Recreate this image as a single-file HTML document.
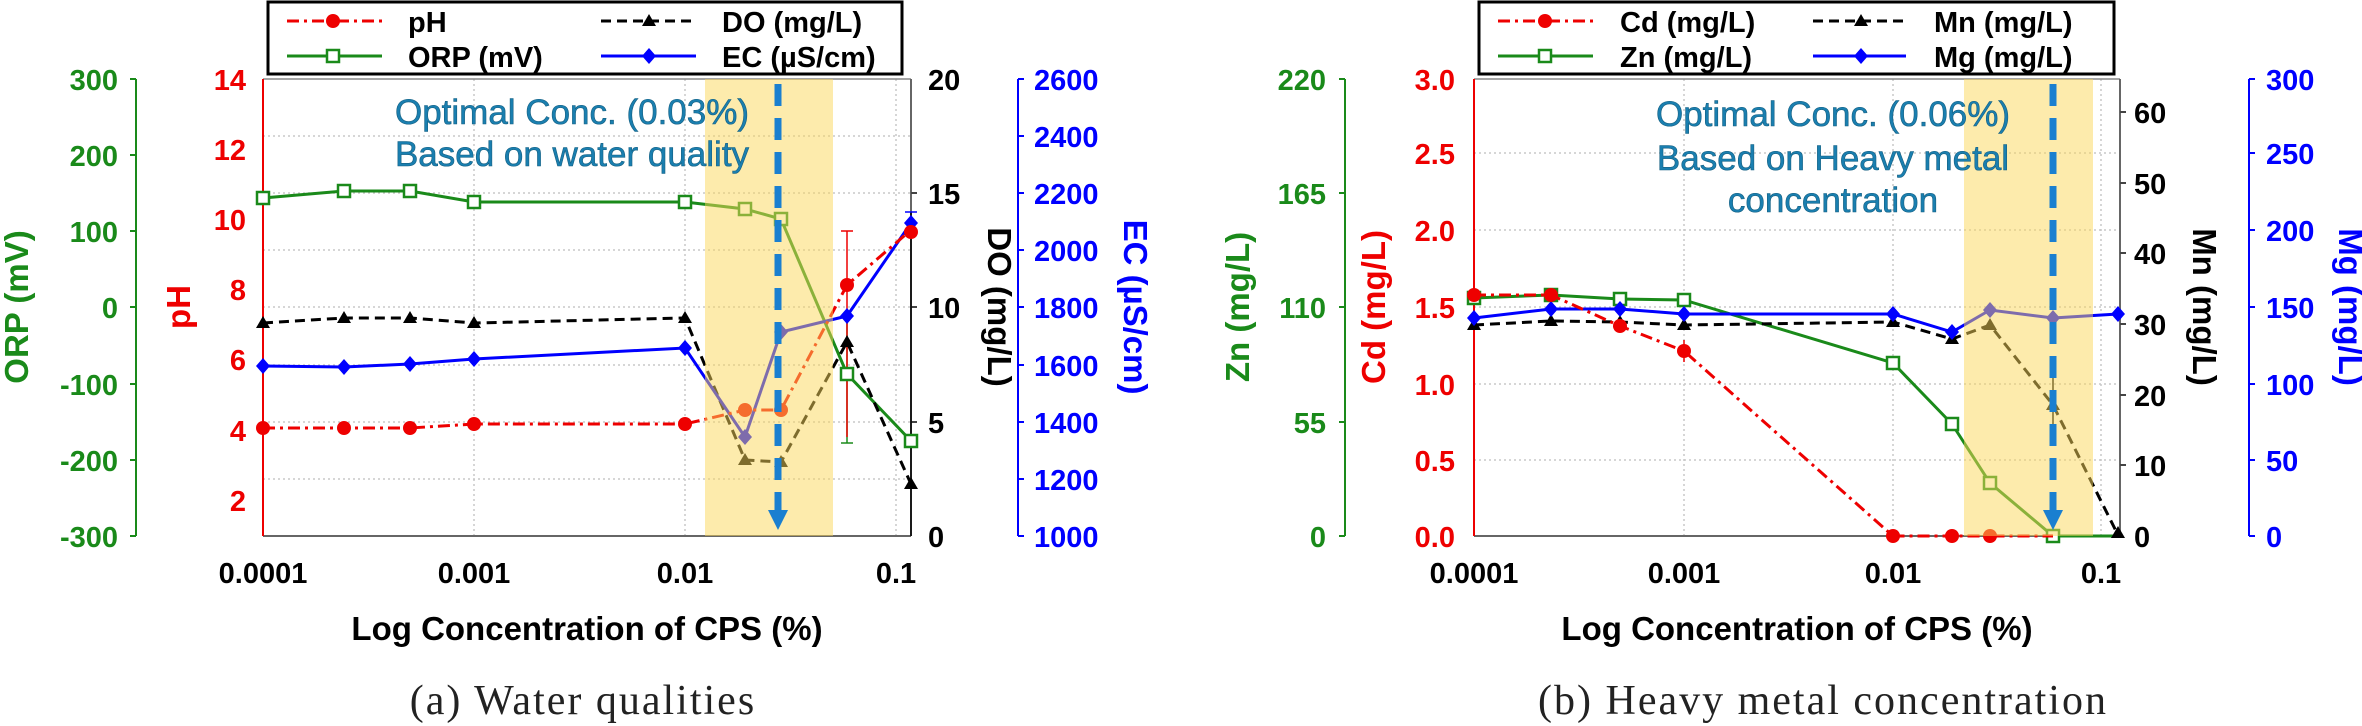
<!DOCTYPE html>
<html><head><meta charset="utf-8"><style>
html,body{margin:0;padding:0;background:#fff;}
svg{display:block;font-family:"Liberation Sans",Arial,sans-serif;}
.tk{font-size:29px;font-weight:bold;}
.lg{font-size:29px;font-weight:bold;fill:#000;}
.ti{font-size:33px;font-weight:bold;}
.cap{font-family:"Liberation Serif",serif;font-size:42px;letter-spacing:2px;fill:#222;}
.opt{font-size:35px;fill:#1a7fb0;stroke:#155f80;stroke-width:0.6px;}
</style></head><body>
<svg width="2362" height="726" viewBox="0 0 2362 726" xmlns="http://www.w3.org/2000/svg">

<!-- ================= CHART A ================= -->
<g>
<g stroke="#c8c8c8" stroke-width="1.5" stroke-dasharray="2,3">
<line x1="263" y1="136" x2="911" y2="136"/><line x1="263" y1="193" x2="911" y2="193"/>
<line x1="263" y1="250" x2="911" y2="250"/><line x1="263" y1="307" x2="911" y2="307"/>
<line x1="263" y1="365" x2="911" y2="365"/><line x1="263" y1="422" x2="911" y2="422"/>
<line x1="263" y1="479" x2="911" y2="479"/>
<line x1="474" y1="79" x2="474" y2="536"/><line x1="685" y1="79" x2="685" y2="536"/><line x1="896" y1="79" x2="896" y2="536"/>
</g>
<line x1="263" y1="79" x2="911" y2="79" stroke="#888" stroke-width="1.5"/>
<line x1="263" y1="536" x2="911" y2="536" stroke="#666" stroke-width="2"/>
<line x1="263" y1="79" x2="263" y2="536" stroke="#e00" stroke-width="2"/>
<line x1="911" y1="79" x2="911" y2="536" stroke="#666" stroke-width="2"/>
<line x1="136" y1="79" x2="136" y2="536" stroke="#1a8a1a" stroke-width="2"/>
<g stroke="#1a8a1a" stroke-width="2"><line x1="130" y1="79" x2="136" y2="79"/><line x1="130" y1="155" x2="136" y2="155"/><line x1="130" y1="231" x2="136" y2="231"/><line x1="130" y1="307" x2="136" y2="307"/><line x1="130" y1="384" x2="136" y2="384"/><line x1="130" y1="460" x2="136" y2="460"/><line x1="130" y1="536" x2="136" y2="536"/></g>
<g class="tk" fill="#1a8a1a" text-anchor="end">
<text x="118" y="90">300</text><text x="118" y="166">200</text><text x="118" y="242">100</text><text x="118" y="318">0</text><text x="118" y="395">-100</text><text x="118" y="471">-200</text><text x="118" y="547">-300</text></g>
<text class="ti" fill="#1a8a1a" transform="translate(28,307) rotate(-90)" text-anchor="middle">ORP (mV)</text>
<g class="tk" fill="#e00" text-anchor="end">
<text x="246" y="90">14</text><text x="246" y="160">12</text><text x="246" y="230">10</text><text x="246" y="300">8</text><text x="246" y="370">6</text><text x="246" y="441">4</text><text x="246" y="511">2</text></g>
<text class="ti" fill="#e00" transform="translate(190,307) rotate(-90)" text-anchor="middle">pH</text>
<g stroke="#444" stroke-width="2"><line x1="911" y1="193" x2="917" y2="193"/><line x1="911" y1="307" x2="917" y2="307"/><line x1="911" y1="422" x2="917" y2="422"/></g>
<g class="tk" fill="#000"><text x="928" y="90">20</text><text x="928" y="204">15</text><text x="928" y="318">10</text><text x="928" y="433">5</text><text x="928" y="547">0</text></g>
<text class="ti" fill="#000" transform="translate(988,307) rotate(90)" text-anchor="middle">DO (mg/L)</text>
<line x1="1018" y1="79" x2="1018" y2="536" stroke="#00f" stroke-width="2"/>
<g stroke="#00f" stroke-width="2"><line x1="1018" y1="79" x2="1024" y2="79"/><line x1="1018" y1="136" x2="1024" y2="136"/><line x1="1018" y1="193" x2="1024" y2="193"/><line x1="1018" y1="250" x2="1024" y2="250"/><line x1="1018" y1="307" x2="1024" y2="307"/><line x1="1018" y1="365" x2="1024" y2="365"/><line x1="1018" y1="422" x2="1024" y2="422"/><line x1="1018" y1="479" x2="1024" y2="479"/><line x1="1018" y1="536" x2="1024" y2="536"/></g>
<g class="tk" fill="#00f"><text x="1034" y="90">2600</text><text x="1034" y="147">2400</text><text x="1034" y="204">2200</text><text x="1034" y="261">2000</text><text x="1034" y="318">1800</text><text x="1034" y="376">1600</text><text x="1034" y="433">1400</text><text x="1034" y="490">1200</text><text x="1034" y="547">1000</text></g>
<text class="ti" fill="#00f" transform="translate(1124,307) rotate(90)" text-anchor="middle">EC (µS/cm)</text>
<g class="tk" fill="#000" text-anchor="middle"><text x="263" y="583">0.0001</text><text x="474" y="583">0.001</text><text x="685" y="583">0.01</text><text x="896" y="583">0.1</text></g>
<text class="ti" fill="#000" x="587" y="640" text-anchor="middle">Log Concentration of CPS (%)</text>
<text class="cap" x="583" y="714" text-anchor="middle">(a) Water qualities</text>

<g stroke-width="1.5">
<line x1="344" y1="184" x2="344" y2="198" stroke="#1a8a1a"/><line x1="410" y1="184" x2="410" y2="198" stroke="#1a8a1a"/>
<line x1="847" y1="322" x2="847" y2="443" stroke="#1a8a1a"/><line x1="841" y1="443" x2="853" y2="443" stroke="#1a8a1a"/>
<line x1="847" y1="231" x2="847" y2="437" stroke="#e00"/><line x1="841" y1="231" x2="853" y2="231" stroke="#e00"/>
<line x1="911" y1="212" x2="911" y2="536" stroke="#000"/><line x1="905" y1="212" x2="917" y2="212" stroke="#00f"/>
</g>
<polyline fill="none" stroke="#1a8a1a" stroke-width="3" points="263,198 344,191 410,191 474,202 685,202 745,209 781,219 847,374 911,441"/>
<g fill="#fff" stroke="#1a8a1a" stroke-width="2.5">
<rect x="257" y="192" width="12" height="12"/><rect x="338" y="185" width="12" height="12"/><rect x="404" y="185" width="12" height="12"/><rect x="468" y="196" width="12" height="12"/><rect x="679" y="196" width="12" height="12"/><rect x="739" y="203" width="12" height="12"/><rect x="775" y="213" width="12" height="12"/><rect x="841" y="368" width="12" height="12"/><rect x="905" y="435" width="12" height="12"/></g>
<polyline fill="none" stroke="#000" stroke-width="3" stroke-dasharray="10,6" points="263,323 344,318 410,318 474,323 685,318 745,460 781,462 847,342 911,484"/>
<g fill="#000">
<polygon points="263,316 270,328 256,328"/><polygon points="344,311 351,323 337,323"/><polygon points="410,311 417,323 403,323"/><polygon points="474,316 481,328 467,328"/><polygon points="685,311 692,323 678,323"/><polygon points="745,453 752,465 738,465"/><polygon points="781,455 788,467 774,467"/><polygon points="847,335 854,347 840,347"/><polygon points="911,477 918,489 904,489"/></g>
<polyline fill="none" stroke="#00f" stroke-width="3" points="263,366 344,367 410,364 474,359 685,348 745,437 781,332 847,316 911,223"/>
<g fill="#00f">
<polygon points="263,358 270,366 263,374 256,366"/><polygon points="344,359 351,367 344,375 337,367"/><polygon points="410,356 417,364 410,372 403,364"/><polygon points="474,351 481,359 474,367 467,359"/><polygon points="685,340 692,348 685,356 678,348"/><polygon points="745,429 752,437 745,445 738,437"/><polygon points="781,324 788,332 781,340 774,332"/><polygon points="847,308 854,316 847,324 840,316"/><polygon points="911,215 918,223 911,231 904,223"/></g>
<polyline fill="none" stroke="#e00" stroke-width="3" stroke-dasharray="12,5,3,5" points="263,428 344,428 410,428 474,424 685,424 745,410 781,410 847,285 911,230"/>
<g fill="#e00">
<circle cx="263" cy="428" r="7"/><circle cx="344" cy="428" r="7"/><circle cx="410" cy="428" r="7"/><circle cx="474" cy="424" r="7"/><circle cx="685" cy="424" r="7"/><circle cx="745" cy="410" r="7"/><circle cx="781" cy="410" r="7"/><circle cx="847" cy="285" r="7"/><circle cx="911" cy="232" r="7"/></g>
<rect x="705" y="79" width="128" height="457" fill="#fbd85a" opacity="0.5"/>
<line x1="778" y1="84" x2="778" y2="512" stroke="#1a7fd0" stroke-width="7" stroke-dasharray="22,12"/>
<polygon points="768,510 788,510 778,530" fill="#1a7fd0"/>
<text class="opt" x="572" y="124" text-anchor="middle">Optimal Conc. (0.03%)</text>
<text class="opt" x="572" y="166" text-anchor="middle">Based on water quality</text>
<rect x="268" y="2" width="634" height="72" fill="#fff" stroke="#000" stroke-width="3"/>
<line x1="287" y1="21" x2="382" y2="21" stroke="#e00" stroke-width="3" stroke-dasharray="12,5,3,5"/><circle cx="333" cy="21" r="7" fill="#e00"/>
<text class="lg" x="408" y="32">pH</text>
<line x1="287" y1="56" x2="382" y2="56" stroke="#1a8a1a" stroke-width="3"/><rect x="327" y="50" width="12" height="12" fill="#fff" stroke="#1a8a1a" stroke-width="2.5"/>
<text class="lg" x="408" y="67">ORP (mV)</text>
<line x1="601" y1="21" x2="696" y2="21" stroke="#000" stroke-width="3" stroke-dasharray="10,6"/><polygon points="649,14 656,26 642,26" fill="#000"/>
<text class="lg" x="722" y="32">DO (mg/L)</text>
<line x1="601" y1="56" x2="696" y2="56" stroke="#00f" stroke-width="3"/><polygon points="649,48 656,56 649,64 642,56" fill="#00f"/>
<text class="lg" x="722" y="67">EC (µS/cm)</text>
</g>

<!-- ================= CHART B ================= -->
<g>
<g stroke="#c8c8c8" stroke-width="1.5" stroke-dasharray="2,3">
<line x1="1474" y1="153" x2="2120" y2="153"/><line x1="1474" y1="230" x2="2120" y2="230"/><line x1="1474" y1="307" x2="2120" y2="307"/><line x1="1474" y1="384" x2="2120" y2="384"/><line x1="1474" y1="460" x2="2120" y2="460"/>
<line x1="1684" y1="79" x2="1684" y2="536"/><line x1="1893" y1="79" x2="1893" y2="536"/><line x1="2101" y1="79" x2="2101" y2="536"/>
</g>
<line x1="1474" y1="79" x2="2120" y2="79" stroke="#888" stroke-width="1.5"/>
<line x1="1474" y1="536" x2="2120" y2="536" stroke="#666" stroke-width="2"/>
<line x1="1474" y1="79" x2="1474" y2="536" stroke="#e00" stroke-width="2"/>
<line x1="2120" y1="79" x2="2120" y2="536" stroke="#666" stroke-width="2"/>
<line x1="1345" y1="79" x2="1345" y2="536" stroke="#1a8a1a" stroke-width="2"/>
<g stroke="#1a8a1a" stroke-width="2"><line x1="1339" y1="79" x2="1345" y2="79"/><line x1="1339" y1="193" x2="1345" y2="193"/><line x1="1339" y1="307" x2="1345" y2="307"/><line x1="1339" y1="422" x2="1345" y2="422"/><line x1="1339" y1="536" x2="1345" y2="536"/></g>
<g class="tk" fill="#1a8a1a" text-anchor="end"><text x="1326" y="90">220</text><text x="1326" y="204">165</text><text x="1326" y="318">110</text><text x="1326" y="433">55</text><text x="1326" y="547">0</text></g>
<text class="ti" fill="#1a8a1a" transform="translate(1249,307) rotate(-90)" text-anchor="middle">Zn (mg/L)</text>
<g class="tk" fill="#e00" text-anchor="end"><text x="1455" y="90">3.0</text><text x="1455" y="164">2.5</text><text x="1455" y="241">2.0</text><text x="1455" y="318">1.5</text><text x="1455" y="395">1.0</text><text x="1455" y="471">0.5</text><text x="1455" y="547">0.0</text></g>
<text class="ti" fill="#e00" transform="translate(1385,307) rotate(-90)" text-anchor="middle">Cd (mg/L)</text>
<g stroke="#444" stroke-width="2"><line x1="2120" y1="112" x2="2126" y2="112"/><line x1="2120" y1="183" x2="2126" y2="183"/><line x1="2120" y1="253" x2="2126" y2="253"/><line x1="2120" y1="324" x2="2126" y2="324"/><line x1="2120" y1="395" x2="2126" y2="395"/><line x1="2120" y1="465" x2="2126" y2="465"/></g>
<g class="tk" fill="#000"><text x="2134" y="123">60</text><text x="2134" y="194">50</text><text x="2134" y="264">40</text><text x="2134" y="335">30</text><text x="2134" y="406">20</text><text x="2134" y="476">10</text><text x="2134" y="547">0</text></g>
<text class="ti" fill="#000" transform="translate(2193,307) rotate(90)" text-anchor="middle">Mn (mg/L)</text>
<line x1="2249" y1="79" x2="2249" y2="536" stroke="#00f" stroke-width="2"/>
<g stroke="#00f" stroke-width="2"><line x1="2249" y1="79" x2="2255" y2="79"/><line x1="2249" y1="153" x2="2255" y2="153"/><line x1="2249" y1="230" x2="2255" y2="230"/><line x1="2249" y1="307" x2="2255" y2="307"/><line x1="2249" y1="384" x2="2255" y2="384"/><line x1="2249" y1="460" x2="2255" y2="460"/><line x1="2249" y1="536" x2="2255" y2="536"/></g>
<g class="tk" fill="#00f"><text x="2266" y="90">300</text><text x="2266" y="164">250</text><text x="2266" y="241">200</text><text x="2266" y="318">150</text><text x="2266" y="395">100</text><text x="2266" y="471">50</text><text x="2266" y="547">0</text></g>
<text class="ti" fill="#00f" transform="translate(2339,307) rotate(90)" text-anchor="middle">Mg (mg/L)</text>
<g class="tk" fill="#000" text-anchor="middle"><text x="1474" y="583">0.0001</text><text x="1684" y="583">0.001</text><text x="1893" y="583">0.01</text><text x="2101" y="583">0.1</text></g>
<text class="ti" fill="#000" x="1797" y="640" text-anchor="middle">Log Concentration of CPS (%)</text>
<text class="cap" x="1823" y="714" text-anchor="middle">(b) Heavy metal concentration</text>

<g stroke-width="1.5"><line x1="1684" y1="340" x2="1684" y2="362" stroke="#e00"/><line x1="2053" y1="378" x2="2053" y2="430" stroke="#000"/></g>
<polyline fill="none" stroke="#1a8a1a" stroke-width="3" points="1474,298 1551,295 1620,299 1684,300 1893,363 1952,424 1990,483 2053,536 2118,536"/>
<g fill="#fff" stroke="#1a8a1a" stroke-width="2.5">
<rect x="1468" y="292" width="12" height="12"/><rect x="1545" y="289" width="12" height="12"/><rect x="1614" y="293" width="12" height="12"/><rect x="1678" y="294" width="12" height="12"/><rect x="1887" y="357" width="12" height="12"/><rect x="1946" y="418" width="12" height="12"/><rect x="1984" y="477" width="12" height="12"/><rect x="2047" y="530" width="12" height="12"/></g>
<polyline fill="none" stroke="#000" stroke-width="3" stroke-dasharray="10,6" points="1474,325 1551,321 1620,322 1684,325 1893,322 1952,339 1990,325 2053,405 2118,535"/>
<g fill="#000">
<polygon points="1474,318 1481,330 1467,330"/><polygon points="1551,314 1558,326 1544,326"/><polygon points="1620,315 1627,327 1613,327"/><polygon points="1684,318 1691,330 1677,330"/><polygon points="1893,315 1900,327 1886,327"/><polygon points="1952,332 1959,344 1945,344"/><polygon points="1990,318 1997,330 1983,330"/><polygon points="2053,398 2060,410 2046,410"/><polygon points="2118,526 2125,538 2111,538"/></g>
<polyline fill="none" stroke="#00f" stroke-width="3" points="1474,318 1551,309 1620,309 1684,314 1893,314 1952,332 1990,310 2053,318 2118,314"/>
<g fill="#00f">
<polygon points="1474,310 1481,318 1474,326 1467,318"/><polygon points="1551,301 1558,309 1551,317 1544,309"/><polygon points="1620,301 1627,309 1620,317 1613,309"/><polygon points="1684,306 1691,314 1684,322 1677,314"/><polygon points="1893,306 1900,314 1893,322 1886,314"/><polygon points="1952,324 1959,332 1952,340 1945,332"/><polygon points="1990,302 1997,310 1990,318 1983,310"/><polygon points="2053,310 2060,318 2053,326 2046,318"/><polygon points="2118,306 2125,314 2118,322 2111,314"/></g>
<polyline fill="none" stroke="#e00" stroke-width="3" stroke-dasharray="12,5,3,5" points="1474,295 1551,295 1620,326 1684,351 1893,536 1952,536 1990,536 2053,536"/>
<g fill="#e00">
<circle cx="1474" cy="295" r="7"/><circle cx="1551" cy="295" r="7"/><circle cx="1620" cy="326" r="7"/><circle cx="1684" cy="351" r="7"/><circle cx="1893" cy="536" r="7"/><circle cx="1952" cy="536" r="7"/><circle cx="1990" cy="536" r="7"/></g>
<rect x="1964" y="79" width="129" height="457" fill="#fbd85a" opacity="0.5"/>
<line x1="2053" y1="84" x2="2053" y2="512" stroke="#1a7fd0" stroke-width="7" stroke-dasharray="22,12"/>
<polygon points="2043,510 2063,510 2053,530" fill="#1a7fd0"/>
<text class="opt" x="1833" y="126" text-anchor="middle">Optimal Conc. (0.06%)</text>
<text class="opt" x="1833" y="170" text-anchor="middle">Based on Heavy metal</text>
<text class="opt" x="1833" y="212" text-anchor="middle">concentration</text>
<rect x="1479" y="2" width="635" height="72" fill="#fff" stroke="#000" stroke-width="3"/>
<line x1="1498" y1="21" x2="1593" y2="21" stroke="#e00" stroke-width="3" stroke-dasharray="12,5,3,5"/><circle cx="1545" cy="21" r="7" fill="#e00"/>
<text class="lg" x="1620" y="32">Cd (mg/L)</text>
<line x1="1498" y1="56" x2="1593" y2="56" stroke="#1a8a1a" stroke-width="3"/><rect x="1539" y="50" width="12" height="12" fill="#fff" stroke="#1a8a1a" stroke-width="2.5"/>
<text class="lg" x="1620" y="67">Zn (mg/L)</text>
<line x1="1813" y1="21" x2="1906" y2="21" stroke="#000" stroke-width="3" stroke-dasharray="10,6"/><polygon points="1861,14 1868,26 1854,26" fill="#000"/>
<text class="lg" x="1934" y="32">Mn (mg/L)</text>
<line x1="1813" y1="56" x2="1906" y2="56" stroke="#00f" stroke-width="3"/><polygon points="1861,48 1868,56 1861,64 1854,56" fill="#00f"/>
<text class="lg" x="1934" y="67">Mg (mg/L)</text>
</g>
</svg>
</body></html>
